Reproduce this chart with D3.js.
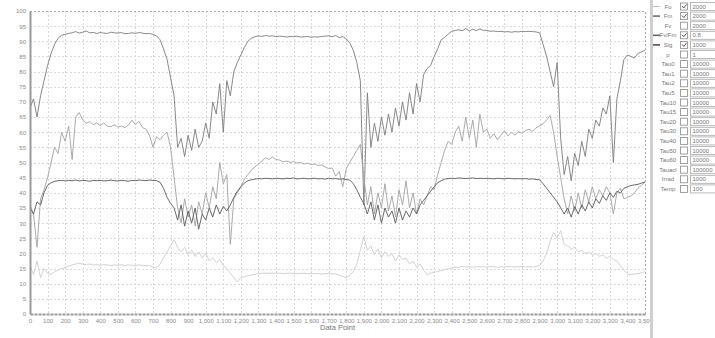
<!DOCTYPE html>
<html>
<head>
<meta charset="utf-8">
<script src="https://cdn.jsdelivr.net/npm/d3@7"></script>
<style>
    body { margin: 0; background: #fff; }
    svg { display: block; font-family: "Liberation Sans", Arial, sans-serif; }
</style>
</head>
<body>
<svg id="chart"></svg>
<script>
// one reading every 20 data points, 0..3500
const STEP = 20

const fo = [
    16, 13, 17.5, 12, 15, 13.5, 13, 14, 14.5, 15,
    15.3, 15.8, 16.2, 16.5, 16.8, 16.4, 16.3, 16.5, 16.2, 16.3,
    16.1, 16.3, 16.2, 16, 16.2, 16.1, 16.3, 16, 16.2, 16.1,
    16, 16.2, 16.1, 15.9, 16, 15.5, 15.2, 16.5, 18.5, 20.5,
    22.5, 24.5, 22, 20.5, 22, 19.5, 21, 19, 20.5, 18.5,
    20, 17.5, 18.5, 17, 18, 16, 15, 13.5, 12, 10.5,
    12, 12.3, 12.6, 12.9, 13.1, 13.3, 13.4, 13.5, 13.4, 13.5,
    13.4, 13.5, 13.3, 13.4, 13.5, 13.4, 13.3, 13.4, 13.5, 13.3,
    13.4, 13.3, 13.4, 13.2, 13.3, 13.4, 13.2, 13.3, 12.8, 12.4,
    12, 12.8, 14, 16.5, 21, 25.5, 21, 22.5, 19.5, 21.5,
    18.5, 20.5, 19, 20, 17.5, 19.5, 18, 18.5, 16.5, 17.5,
    15.5, 16.5, 14.5, 13, 13.5, 13.8, 14, 14.3, 14.6, 14.9,
    15.2, 15.5, 15.3, 15.7, 15.5, 15.6, 15.4, 15.7, 15.5, 15.6,
    15.5, 15.7, 15.6, 15.4, 15.6, 15.5, 15.7, 15.6, 15.5, 15.6,
    15.7, 15.5, 15.6, 15.5, 15.7, 16, 17.5, 20, 24, 27,
    25, 27.5, 23, 22.5, 21.5, 22, 20.5, 21, 20, 20.5,
    19.5, 20, 19, 19.5, 18.5, 19, 18, 17.5, 16, 14.5,
    13.2, 13, 13.2, 13.3, 13.6, 14
]

const fm = [
    68, 71, 65, 72, 77, 82, 86, 89, 91, 92,
    92.3, 92.6, 92.8, 93.2, 92.7, 93.0, 93.4, 92.8, 92.9, 92.6,
    92.9, 92.7, 92.6, 93.0, 92.8, 92.7, 92.9, 92.5, 92.6, 92.8,
    92.6, 92.9, 92.7, 92.5, 92.6, 92.3, 91.8, 90.5, 87.5, 84,
    78, 72, 55, 58, 52, 59, 54, 61, 55, 57,
    63, 58, 70, 66, 76, 60, 77, 72, 80, 83,
    85.5, 88, 90, 91, 91.5, 91.8, 91.6, 91.9, 91.7, 91.8,
    91.5, 91.7, 91.6, 91.4, 91.6, 91.5, 91.7, 91.4, 91.5, 91.6,
    91.3, 91.5, 91.4, 91.6, 91.7, 91.8, 91.5, 91.9, 91.2, 91.6,
    90.8, 89.5, 87, 83, 77, 36, 73, 55, 63, 57,
    65, 59, 66, 60, 68, 62, 70, 64, 73, 66,
    76, 70, 79, 81, 82, 85, 87.5, 90.5, 91.3, 92.4,
    93.3, 93.6, 93.8, 93.5, 94.2, 93.4, 94.0, 93.5, 94.1, 93.6,
    93.6, 93.3, 93.4, 93.2, 93.3, 93.1, 93.2, 93.0, 93.2, 93.1,
    93.3, 93.2, 93.3, 93.2, 93.1, 92.8, 89, 85, 80, 75,
    83, 58, 46, 52, 44, 53, 49, 57, 52, 61,
    58, 64, 62, 68, 66, 72, 50, 71, 77, 84,
    85.5, 85, 84.5, 86, 86.5, 87
]

const fvfm = [
    36, 33, 22, 38, 41, 45, 50, 55, 53, 60,
    57, 62, 51, 65, 66.5, 64, 63, 63.5, 62.5, 63,
    62.2, 63, 62, 61.8, 62.5, 61.7, 62, 61.5, 62.3, 64,
    62.5, 63.6, 61.5, 61, 59, 55, 58.5, 57.5, 59, 60,
    55, 45, 35, 30, 38, 32, 36, 29, 37, 33,
    40, 35, 42, 38, 50, 43, 46, 23, 38, 40,
    42, 44.5, 46, 47.5, 48.5, 49.5, 50.5, 51.5, 51, 51.8,
    51, 50.8, 50.2, 50.5, 50, 50.3, 49.8, 50, 49.5, 49.8,
    49.3, 49.5, 49, 49.2, 48.5, 48, 48.2, 45.5, 47, 42,
    48, 50, 52, 54, 56, 45, 36, 42, 33, 40,
    35, 43, 34, 39, 32, 41, 36, 44, 35, 40,
    33, 38, 36, 39, 42, 41, 46, 50, 54, 57,
    56, 60, 62, 57, 65, 58, 64, 55, 66, 60,
    61, 58, 59.5, 57.5, 59, 60.5, 58.8, 60, 59, 60.2,
    59.6, 60.5, 61, 60.3, 61.5, 62, 62.8, 64, 65.5, 60,
    52, 45, 38, 33, 39, 34, 40, 35, 41, 37,
    42, 38, 41, 39, 42, 40, 33, 40, 41.5, 38,
    38.5, 39, 40, 41.5, 42.5, 43.5
]

const sig = [
    35, 33, 37, 36, 40, 42.5, 43.3, 43.8, 44, 44.1,
    43.9, 44.1, 44, 44.2, 43.9, 44.1, 44, 43.8, 44.1, 44,
    44.1, 43.9, 44, 44.2, 44, 43.9, 44.1, 44, 43.8, 44.1,
    44, 44.2, 44.1, 44, 44.2, 44.1, 44, 43.5, 41.5, 38.5,
    36.5, 35, 31, 36, 29, 34, 30, 35, 28, 33,
    31, 35, 32, 36, 33, 35.5, 34, 36, 38.5, 40.5,
    42, 43.2, 44, 44.3, 44.5, 44.7, 44.6, 44.8, 44.7, 44.6,
    44.8, 44.7, 44.6, 44.8, 44.7, 44.9, 44.6, 44.7, 44.8, 44.6,
    44.7, 44.8, 44.6, 44.7, 44.5, 44.8, 44.6, 44.7, 44.5, 44.6,
    44.4, 44.2, 43, 41, 38.5, 36.5, 33, 37, 31, 36,
    30, 35, 32, 34, 30, 35, 31, 34, 32, 35,
    33, 36, 37.5, 39, 40.5, 42, 43.3, 44, 44.5, 44.7,
    44.8, 44.7, 44.9, 44.8, 44.7, 44.8, 44.9, 44.7, 44.8, 44.7,
    44.8, 44.7, 44.6, 44.8, 44.7, 44.6, 44.8, 44.7, 44.6, 44.7,
    44.6, 44.7, 44.5, 44.6, 44.4, 44.3, 43, 41.5, 40, 38.5,
    37, 35, 33, 35, 32, 35.5, 33, 36, 34, 37,
    35, 38, 36.5, 39, 37.5, 40, 38.5, 40.5, 40, 41.5,
    42, 42.4, 42.6, 42.8, 43.2, 43.6
]

// drawing order and colours (grey-scale like the original)
const seriesNames = ['Fo', 'Fm', 'Fv/Fm', 'Sig']
const seriesData = [fo, fm, fvfm, sig]
const seriesColors = ['#cdcdcd', '#7c7c7c', '#a2a2a2', '#585858']

const xTicks = d3.range(0, 3501, 100)
const yTicks = d3.range(0, 101, 5)

// side panel
const panelNames = ['Fo', 'Fm', 'Fv', 'Fv/Fm', 'Sig', 'p', 'Tau0', 'Tau1', 'Tau2', 'Tau5',
    'Tau10', 'Tau15', 'Tau20', 'Tau30', 'Tau40', 'Tau50', 'Tau60', 'Tauacl', 'Irrad', 'Temp']
const panelChecked = [true, true, false, true, true, false, false, false, false, false,
    false, false, false, false, false, false, false, false, false, false]
const panelValues = ['2000', '2000', '2000', '0.8', '1000', '1', '10000', '10000', '10000', '10000',
    '10000', '10000', '10000', '10000', '10000', '10000', '10000', '100000', '1000', '100']
const panelLineColors = ['#bdbdbd', '#6e6e6e', null, '#666666', '#505050']

const WIDTH = 715
const HEIGHT = 338
const PLOT = { left: 30, right: 645, top: 11, bottom: 314 }

const svg = d3.select('#chart')
    .attr('width', WIDTH)
    .attr('height', HEIGHT)
    .attr('viewBox', `0 0 ${WIDTH} ${HEIGHT}`)

const xScale = d3.scaleLinear().domain([0, 3500]).range([PLOT.left, PLOT.right])
const yScale = d3.scaleLinear().domain([0, 100]).range([PLOT.bottom, PLOT.top])

// grid
const grid = svg.append('g').attr('stroke', '#d9d9d9').attr('stroke-dasharray', '2,2').attr('stroke-width', 1)
grid.selectAll('.gx').data(xTicks.filter(t => t > 0 && t < 3500)).join('line')
    .attr('x1', d => Math.round(xScale(d)) + 0.5).attr('x2', d => Math.round(xScale(d)) + 0.5)
    .attr('y1', PLOT.top).attr('y2', PLOT.bottom)
grid.selectAll('.gy').data(yTicks.filter(t => t > 0 && t < 100)).join('line')
    .attr('y1', d => Math.round(yScale(d)) + 0.5).attr('y2', d => Math.round(yScale(d)) + 0.5)
    .attr('x1', PLOT.left).attr('x2', PLOT.right)

// top and right border, dotted
svg.append('path')
    .attr('d', `M${PLOT.left},${PLOT.top + 0.5}H${PLOT.right + 0.5}V${PLOT.bottom}`)
    .attr('fill', 'none').attr('stroke', '#aaa').attr('stroke-dasharray', '2,2')

// series
const line = d3.line()
    .x((d, i) => xScale(i * STEP))
    .y(d => yScale(d))

svg.append('g').selectAll('path').data(seriesData).join('path')
    .attr('d', d => line(d))
    .attr('fill', 'none')
    .attr('stroke', (d, i) => seriesColors[i])
    .attr('stroke-width', 0.9)
    .attr('stroke-linejoin', 'round')

// axes
const xAxis = d3.axisBottom(xScale).tickValues(xTicks).tickFormat(d3.format(',')).tickSize(0).tickPadding(5)
const yAxis = d3.axisLeft(yScale).tickValues(yTicks).tickSize(0).tickPadding(4)

const xAxisGroup = svg.append('g').attr('transform', `translate(0,${PLOT.bottom})`).call(xAxis)
const yAxisGroup = svg.append('g').attr('transform', `translate(${PLOT.left},0)`).call(yAxis)

xAxisGroup.select('.domain').attr('stroke', '#999').attr('stroke-width', 2).attr('stroke-dasharray', '3,1')
yAxisGroup.select('.domain').attr('stroke', '#999').attr('stroke-width', 2)
svg.selectAll('.tick text').attr('fill', '#8a8a8a').attr('font-size', 6)
    .attr('font-family', '"Liberation Sans", Arial, sans-serif')

svg.append('text')
    .attr('x', (PLOT.left + PLOT.right) / 2)
    .attr('y', 330)
    .attr('text-anchor', 'middle')
    .attr('font-size', 7.5)
    .attr('fill', '#777')
    .text('Data Point')

// side panel
svg.append('rect').attr('x', 650).attr('y', 0).attr('width', 3).attr('height', HEIGHT).attr('fill', '#cfcfcf')

const rows = svg.append('g').selectAll('g').data(panelNames).join('g')
    .attr('transform', (d, i) => `translate(0,${6.5 + i * 9.6})`)

rows.filter((d, i) => panelLineColors[i])
    .append('line')
    .attr('x1', 653).attr('x2', 660)
    .attr('stroke', (d, i) => panelLineColors[panelNames.indexOf(d)])
    .attr('stroke-width', (d) => d === 'Fo' ? 1 : 1.6)

rows.append('text')
    .attr('x', 668).attr('y', 2)
    .attr('text-anchor', 'middle')
    .attr('font-size', 6)
    .attr('fill', '#777')
    .text(d => d)

rows.append('rect')
    .attr('x', 680.5).attr('y', -3.5).attr('width', 7).attr('height', 7)
    .attr('fill', '#fff').attr('stroke', '#8a8a8a').attr('stroke-width', 0.8)

rows.filter((d, i) => panelChecked[i])
    .append('path')
    .attr('d', 'M682,-0.5L683.8,1.5L686.5,-2')
    .attr('fill', 'none').attr('stroke', '#555').attr('stroke-width', 1)

rows.append('rect')
    .attr('x', 690.5).attr('y', -4).attr('width', 26).attr('height', 8)
    .attr('fill', '#fff').attr('stroke', '#aaa').attr('stroke-width', 0.8)

rows.append('text')
    .attr('x', 692.5).attr('y', 2)
    .attr('font-size', 6)
    .attr('fill', '#777')
    .text((d, i) => panelValues[i])
</script>
</body>
</html>
